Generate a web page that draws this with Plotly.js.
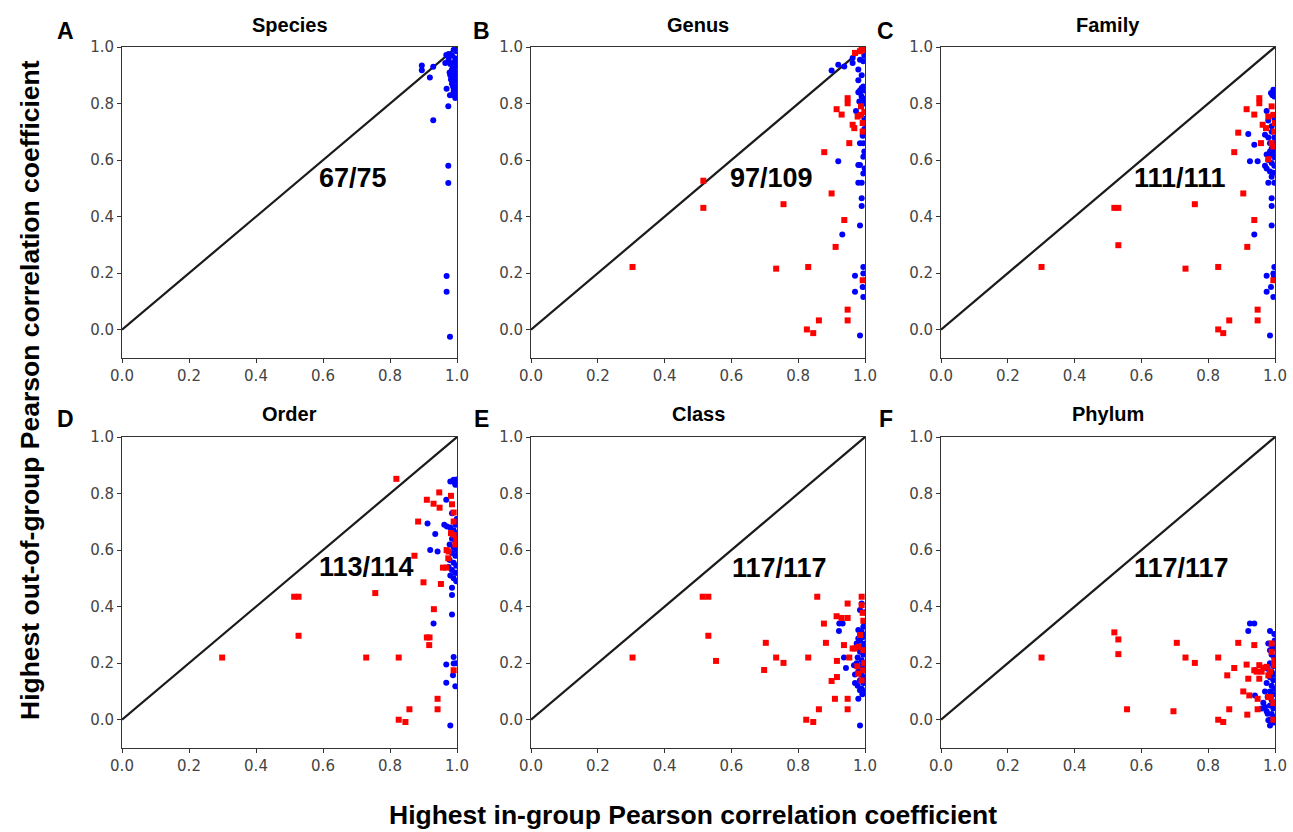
<!DOCTYPE html>
<html>
<head>
<meta charset="utf-8">
<script src="https://cdn.plot.ly/plotly-3.0.1.min.js"></script>
<style>html,body{margin:0;padding:0;background:#fff;}#chart{width:1293px;height:832px;}</style>
</head>
<body>
<div id="chart"></div>
<script>
// Panel titles, letters and counts
const panelTitles = ["Species", "Genus", "Family", "Order", "Class", "Phylum"];
const panelLetters = ["A", "B", "C", "D", "E", "F"];
const panelCounts = ["67/75", "97/109", "111/111", "113/114", "117/117", "117/117"];
const countX = [0.69, 0.72, 0.716, 0.73, 0.745, 0.72];
const countY = [0.535, 0.535, 0.535, 0.54, 0.535, 0.535];
const tickValues = [0.0, 0.2, 0.4, 0.6, 0.8, 1.0];
const tickLabels = ["0.0", "0.2", "0.4", "0.6", "0.8", "1.0"];
const diagX = [0, 1];
const diagY = [0, 1];

// Species (A)
const speciesBlue = [[0.895,0.935],[0.895,0.918],[0.929,0.93],[0.919,0.892],[0.965,0.943],[0.968,0.972],[0.974,0.79],[0.929,0.741],[0.974,0.58],[0.974,0.519],[0.969,0.19],[0.969,0.134],[0.979,-0.025],[0.969,0.852],[0.979,0.829],
[0.99,0.99],[0.985,0.97],[0.995,0.96],[0.975,0.955],[0.99,0.945],[0.998,0.93],[0.985,0.92],[0.995,0.91],[0.98,0.9],[0.99,0.89],[0.998,0.88],[0.985,0.87],[0.995,0.86],[0.99,0.845],[0.998,0.835],[0.985,0.83],[0.995,0.82],[0.975,0.975],[0.998,0.985],[0.98,0.94],[0.993,0.9],[0.988,0.86],[0.999,0.95],[0.982,0.885],[0.996,0.842],[0.99,0.925],[0.978,0.91]];
const speciesRed = [];

// Genus (B)
const genusBlue = [[0.9,0.917],[0.92,0.937],[0.938,0.931],[0.963,0.943],[0.963,0.961],[0.98,0.92],[0.98,0.882],[0.973,0.774],[0.92,0.596],[0.98,0.583],[0.985,0.583],[0.98,0.52],[0.99,0.52],[0.995,0.553],[0.99,0.465],[0.99,0.438],[0.985,0.369],[0.932,0.337],[0.995,0.222],[0.995,0.199],[0.97,0.191],[0.97,0.134],[0.993,0.151],[0.995,0.116],[0.985,-0.02],[0.985,0.66],[0.995,0.66],[0.995,0.612],[0.985,0.955],[0.995,0.95],[0.995,0.86],[0.99,0.825],[0.983,0.807],[0.998,0.846],[0.985,0.838],[0.995,0.817],[0.998,0.746],[0.998,0.71],[0.993,0.686],[0.99,0.9],[0.998,0.97],[0.985,0.846],[0.999,0.8],[0.98,0.84],[0.99,0.855],[0.998,0.63],[0.999,0.57]];
const genusRed = [[0.304,0.222],[0.516,0.527],[0.516,0.431],[0.756,0.444],[0.734,0.216],[0.83,0.222],[0.826,0.001],[0.845,-0.012],[0.862,0.033],[0.878,0.628],[0.9,0.482],[0.912,0.293],[0.938,0.388],[0.948,0.071],[0.948,0.033],[0.915,0.78],[0.93,0.761],[0.948,0.819],[0.948,0.801],[0.953,0.66],[0.963,0.725],[0.968,0.713],[0.978,0.754],[0.988,0.79],[0.988,0.76],[0.993,0.731],[0.993,0.701],[0.993,0.175],[0.97,0.979],[0.985,0.985],[0.995,0.99],[0.998,0.77],[0.99,0.995]];

// Family (C)
const familyBlue = [[0.92,0.692],[0.938,0.654],[0.925,0.596],[0.948,0.596],[0.938,0.337],[0.975,0.774],[0.988,0.837],[0.995,0.849],[0.998,0.825],[0.98,0.52],[0.99,0.541],[0.998,0.52],[0.99,0.465],[0.99,0.438],[0.99,0.369],[0.998,0.222],[0.995,0.199],[0.988,0.151],[0.975,0.191],[0.975,0.134],[0.995,0.116],[0.985,-0.02],
[0.97,0.69],[0.98,0.68],[0.99,0.7],[0.998,0.68],[0.985,0.66],[0.995,0.64],[0.975,0.62],[0.99,0.62],[0.998,0.61],[0.98,0.6],[0.99,0.59],[0.998,0.58],[0.975,0.57],[0.985,0.56],[0.995,0.555],[0.98,0.74],[0.99,0.72],[0.998,0.75],[0.97,0.58],[0.99,0.64],[0.999,0.66],[0.985,0.63],[0.999,0.845],[0.992,0.83],[0.997,0.19],[0.999,0.63]];
const familyRed = [[0.301,0.222],[0.519,0.431],[0.531,0.431],[0.531,0.299],[0.76,0.444],[0.732,0.216],[0.83,0.222],[0.83,0.001],[0.845,-0.012],[0.863,0.033],[0.878,0.628],[0.89,0.697],[0.905,0.482],[0.917,0.293],[0.938,0.388],[0.948,0.071],[0.948,0.033],[0.915,0.78],[0.938,0.761],[0.953,0.819],[0.953,0.801],[0.958,0.66],[0.963,0.725],[0.973,0.713],[0.98,0.754],[0.98,0.603],[0.99,0.79],[0.995,0.76],[1.0,0.731],[0.998,0.701],[0.99,0.66],[0.995,0.648],[0.995,0.175]];

// Order (D)
const orderBlue = [[0.912,0.694],[0.935,0.657],[0.92,0.6],[0.942,0.595],[0.93,0.34],[0.968,0.778],[0.98,0.843],[0.99,0.849],[0.995,0.831],[0.962,0.69],[0.97,0.683],[0.985,0.73],[0.985,0.467],[0.985,0.441],[0.985,0.372],[0.99,0.222],[0.99,0.199],[0.988,0.157],[0.968,0.195],[0.968,0.131],[0.995,0.118],[0.98,-0.02],
[0.98,0.68],[0.99,0.67],[0.998,0.66],[0.985,0.64],[0.995,0.63],[0.978,0.62],[0.99,0.61],[0.998,0.6],[0.985,0.59],[0.995,0.58],[0.978,0.565],[0.99,0.555],[0.998,0.545],[0.985,0.53],[0.995,0.52],[0.98,0.51],[0.99,0.5],[0.998,0.49],[0.975,0.54],[0.999,0.85],[0.992,0.84],[0.999,0.71],[0.996,0.69],[0.999,0.52],[0.997,0.2]];
const orderRed = [[0.299,0.22],[0.514,0.435],[0.527,0.435],[0.527,0.297],[0.729,0.22],[0.756,0.448],[0.819,0.852],[0.826,0.22],[0.826,0.0],[0.846,-0.008],[0.858,0.037],[0.873,0.58],[0.884,0.701],[0.9,0.486],[0.91,0.778],[0.91,0.291],[0.918,0.291],[0.917,0.264],[0.93,0.764],[0.931,0.391],[0.942,0.074],[0.942,0.037],[0.947,0.804],[0.948,0.75],[0.952,0.48],[0.958,0.538],[0.968,0.538],[0.982,0.792],[0.985,0.762],[0.99,0.733],[0.99,0.701],[0.975,0.595],[0.982,0.66],[0.99,0.654],[0.99,0.175],[0.969,0.6],[0.974,0.571],[0.998,0.64],[0.995,0.62]];

// Class (E)
const classBlue = [[0.923,0.34],[0.933,0.34],[0.922,0.314],[0.937,0.22],[0.943,0.183],[0.967,0.193],[0.97,0.13],[0.98,0.317],[0.98,0.287],[0.975,0.27],[0.985,0.388],[0.99,0.411],[0.995,0.329],[0.995,0.293],[0.985,0.104],[0.98,0.074],[0.985,-0.02],
[0.99,0.26],[0.998,0.25],[0.985,0.24],[0.995,0.23],[0.978,0.22],[0.99,0.21],[0.998,0.2],[0.985,0.19],[0.995,0.18],[0.98,0.17],[0.99,0.16],[0.998,0.15],[0.985,0.14],[0.995,0.13],[0.978,0.12],[0.99,0.11],[0.998,0.1],[0.99,0.31],[0.998,0.3],[0.985,0.28],[0.999,0.27],[0.975,0.2],[0.97,0.16],[0.999,0.34],[0.992,0.09],[0.999,0.38]];
const classRed = [[0.304,0.22],[0.514,0.435],[0.531,0.435],[0.531,0.297],[0.554,0.208],[0.698,0.176],[0.703,0.272],[0.734,0.22],[0.756,0.201],[0.824,0.0],[0.845,-0.008],[0.83,0.22],[0.857,0.435],[0.862,0.037],[0.877,0.34],[0.883,0.272],[0.9,0.137],[0.91,0.074],[0.915,0.366],[0.916,0.208],[0.916,0.151],[0.93,0.36],[0.948,0.36],[0.937,0.264],[0.948,0.411],[0.948,0.074],[0.948,0.037],[0.953,0.22],[0.963,0.252],[0.97,0.252],[0.977,0.189],[0.98,0.163],[0.99,0.435],[0.99,0.405],[0.993,0.378],[0.995,0.35],[0.98,0.258],[0.995,0.246],[0.99,0.139],[0.995,0.175],[0.985,0.3],[0.998,0.2]];

// Phylum (F)
const phylumBlue = [[0.925,0.34],[0.938,0.34],[0.92,0.314],[0.985,0.314],[0.998,0.303],[0.98,0.27],[0.985,0.246],[0.998,0.252],[0.94,0.175],[0.94,0.086],[0.985,-0.02],[0.97,0.045],[0.978,0.021],[0.98,-0.002],
[0.99,0.23],[0.998,0.22],[0.985,0.2],[0.995,0.19],[0.978,0.18],[0.99,0.17],[0.998,0.16],[0.985,0.15],[0.995,0.14],[0.975,0.13],[0.99,0.12],[0.998,0.11],[0.985,0.1],[0.995,0.09],[0.978,0.08],[0.99,0.07],[0.998,0.06],[0.985,0.05],[0.995,0.04],[0.975,0.03],[0.99,0.02],[0.998,0.01],[0.985,0.0],[0.995,-0.01],[0.965,0.06],[0.96,0.04],[0.97,0.1],[0.999,0.28],[0.992,0.26]];
const phylumRed = [[0.301,0.22],[0.519,0.309],[0.531,0.284],[0.531,0.232],[0.557,0.037],[0.696,0.03],[0.706,0.272],[0.732,0.22],[0.76,0.201],[0.83,0.22],[0.83,0.0],[0.845,-0.008],[0.857,0.157],[0.863,0.037],[0.878,0.183],[0.89,0.272],[0.905,0.1],[0.915,0.195],[0.917,0.018],[0.92,0.145],[0.923,0.086],[0.938,0.264],[0.938,0.175],[0.948,0.074],[0.948,0.037],[0.953,0.193],[0.953,0.145],[0.965,0.184],[0.975,0.187],[0.98,0.157],[0.98,0.08],[0.988,0.08],[0.99,0.27],[0.99,0.24],[0.998,0.21],[0.998,0.193],[0.995,0.059],[0.995,0.0],[0.945,0.17],[0.96,0.17],[0.985,0.17]];

const blueSets = [speciesBlue, genusBlue, familyBlue, orderBlue, classBlue, phylumBlue];
const redSets = [speciesRed, genusRed, familyRed, orderRed, classRed, phylumRed];

// Layout geometry (pixels)
const W = 1293, H = 832;
const colPx = [[122, 457], [531, 865], [941, 1275]];
const rowPx = [[47, 358], [437, 748]];

const traces = [];
const layout = {
  width: W, height: H,
  margin: {l: 0, r: 0, t: 0, b: 0},
  paper_bgcolor: "#fff", plot_bgcolor: "#fff",
  showlegend: false,
  annotations: []
};

const tickFont = {family: "DejaVu Sans, sans-serif", size: 15, color: "#444"};
const boldFont = "Liberation Sans, Arial, sans-serif";

for (let i = 0; i < 6; i++) {
  const r = Math.floor(i / 3), c = i % 3;
  const n = i + 1;
  const xn = n === 1 ? "x" : "x" + n;
  const yn = n === 1 ? "y" : "y" + n;
  const xk = n === 1 ? "xaxis" : "xaxis" + n;
  const yk = n === 1 ? "yaxis" : "yaxis" + n;
  const xd = [colPx[c][0] / W, colPx[c][1] / W];
  const yd = [1 - rowPx[r][1] / H, 1 - rowPx[r][0] / H];
  const common = {
    showgrid: false, zeroline: false, showline: true, mirror: true,
    linecolor: "#333", linewidth: 1,
    ticks: "outside", ticklen: 4, tickwidth: 1, tickcolor: "#333",
    tickvals: tickValues, ticktext: tickLabels, tickfont: tickFont,
    fixedrange: true
  };
  layout[xk] = Object.assign({}, common, {domain: xd, range: [0, 1], anchor: yn});
  layout[yk] = Object.assign({}, common, {domain: yd, range: [-0.1, 1.0], anchor: xn});

  traces.push({
    type: "scatter", mode: "lines", x: diagX, y: diagY, xaxis: xn, yaxis: yn,
    line: {color: "#1a1a1a", width: 2.2}, hoverinfo: "skip"
  });
  const b = blueSets[i];
  traces.push({
    type: "scatter", mode: "markers", xaxis: xn, yaxis: yn,
    x: b.map(p => p[0]), y: b.map(p => p[1]),
    marker: {color: "#0000ff", size: 6, symbol: "circle", line: {width: 0}}
  });
  const rd = redSets[i];
  if (rd.length) {
    traces.push({
      type: "scatter", mode: "markers", xaxis: xn, yaxis: yn,
      x: rd.map(p => p[0]), y: rd.map(p => p[1]),
      marker: {color: "#ff0000", size: 6, symbol: "square", line: {width: 0}}
    });
  }

  // count annotation
  layout.annotations.push({
    xref: xn, yref: yn, x: countX[i], y: countY[i], text: "<b>" + panelCounts[i] + "</b>",
    showarrow: false, font: {family: boldFont, size: 27, color: "#000"},
    xanchor: "center", yanchor: "middle"
  });
  // panel title
  const cx = (colPx[c][0] + colPx[c][1]) / 2 / W;
  const ty = r === 0 ? 1 - 25 / H : 1 - 414 / H;
  layout.annotations.push({
    xref: "paper", yref: "paper", x: cx, y: ty, text: "<b>" + panelTitles[i] + "</b>",
    showarrow: false, font: {family: boldFont, size: 20, color: "#000"},
    xanchor: "center", yanchor: "middle"
  });
  // panel letter
  const lx = [65.5, 481, 885.5][c] / W;
  const ly = r === 0 ? 1 - 31 / H : 1 - 419 / H;
  layout.annotations.push({
    xref: "paper", yref: "paper", x: lx, y: ly, text: "<b>" + panelLetters[i] + "</b>",
    showarrow: false, font: {family: boldFont, size: 23, color: "#000"},
    xanchor: "center", yanchor: "middle"
  });
}

layout.annotations.push({
  xref: "paper", yref: "paper", x: 30 / W, y: 1 - 390 / H,
  text: "<b>Highest out-of-group Pearson correlation coefficient</b>",
  textangle: -90, showarrow: false, font: {family: boldFont, size: 26.5, color: "#000"},
  xanchor: "center", yanchor: "middle"
});
layout.annotations.push({
  xref: "paper", yref: "paper", x: 693 / W, y: 1 - 815 / H,
  text: "<b>Highest in-group Pearson correlation coefficient</b>",
  showarrow: false, font: {family: boldFont, size: 26.5, color: "#000"},
  xanchor: "center", yanchor: "middle"
});

Plotly.newPlot("chart", traces, layout, {staticPlot: true, displayModeBar: false});
</script>
</body>
</html>
